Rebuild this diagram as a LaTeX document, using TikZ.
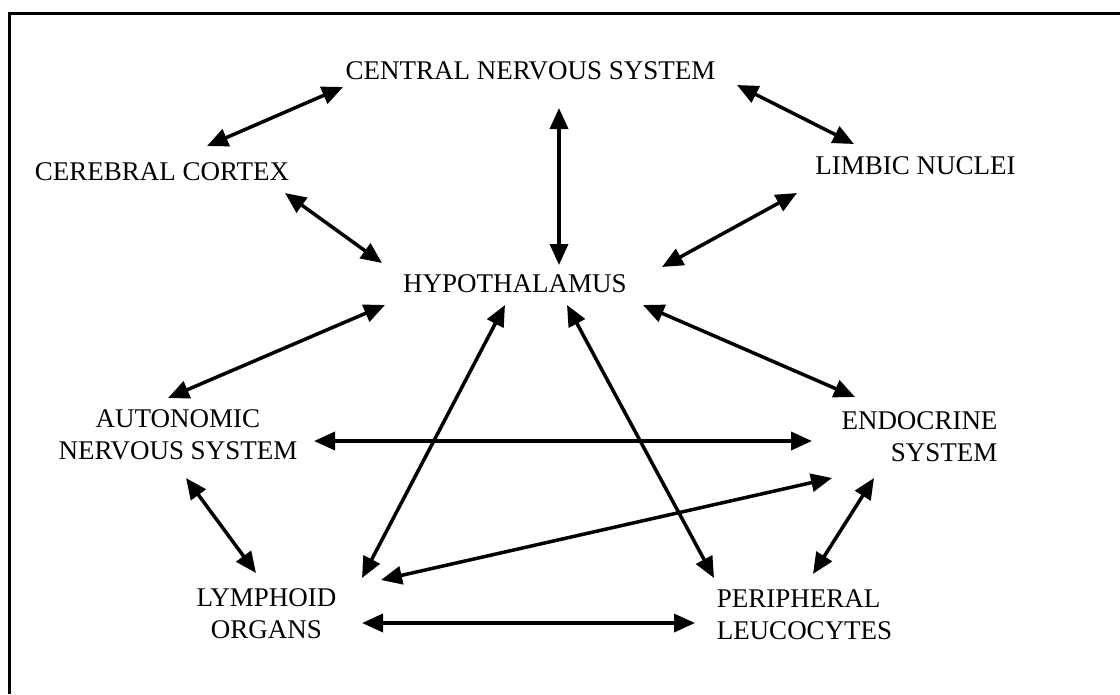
\documentclass[tikz,border=0pt]{standalone}
\usepackage{fontspec}
\setmainfont{Liberation Serif}
\usetikzlibrary{arrows.meta}
\begin{document}
\begin{tikzpicture}[x=1pt,y=-1pt,
  lbl/.style={inner sep=0pt, font=\fontsize{27pt}{32pt}\selectfont},
  arr/.style={line width=3.5pt, {Triangle[length=21pt,width=18pt]}-{Triangle[length=21pt,width=18pt]}},
  frameline/.style={line width=3pt, line join=miter}]
\useasboundingbox (0,0) rectangle (1120,694);
\draw[frameline] (9,694) -- (9,13) -- (1120,13);
% nodes
\node[lbl] (cns) at (530.5,70.5) {CENTRAL NERVOUS SYSTEM};
\node[lbl] (cc) at (162,171.5) {CEREBRAL CORTEX};
\node[lbl] (ln) at (915.5,166) {LIMBIC NUCLEI};
\node[lbl] (hyp) at (515,284) {HYPOTHALAMUS};
\node[lbl,align=center] (ans) at (178,435) {AUTONOMIC\\NERVOUS SYSTEM};
\node[lbl,align=right] (es) at (919.5,437) {ENDOCRINE\\SYSTEM};
\node[lbl,align=center] (lo) at (266.5,613.5) {LYMPHOID\\ORGANS};
\node[lbl,align=left] (pl) at (804.5,615) {PERIPHERAL\\LEUCOCYTES};
% connectors
\draw[arr] ([shift={(-187.5,16.5)}]cns.center) -- ([shift={(45,-25.5)}]cc.center);
\draw[arr] ([shift={(206.5,14.5)}]cns.center) -- ([shift={(-61.5,-22)}]ln.center);
\draw[arr] ([shift={(28.5,37.5)}]cns.center) -- ([shift={(44,-19)}]hyp.center);
\draw[arr] ([shift={(123,21.5)}]cc.center) -- ([shift={(-133,-21)}]hyp.center);
\draw[arr] ([shift={(-118.5,27)}]ln.center) -- ([shift={(147,-17)}]hyp.center);
\draw[arr] ([shift={(-130,21)}]hyp.center) -- ([shift={(-10,-37)}]ans.center);
\draw[arr] ([shift={(128,21)}]hyp.center) -- ([shift={(-64.5,-40)}]es.center);
\draw[arr] ([shift={(136,6)}]ans.center) -- ([shift={(-107.5,4)}]es.center);
\draw[arr] ([shift={(8,43)}]ans.center) -- ([shift={(-10.5,-40.5)}]lo.center);
\draw[arr] ([shift={(-10,21)}]hyp.center) -- ([shift={(95.5,-35.5)}]lo.center);
\draw[arr] ([shift={(52,21)}]hyp.center) -- ([shift={(-90.5,-37)}]pl.center);
\draw[arr] ([shift={(114.5,-33.5)}]lo.center) -- ([shift={(-87.5,41)}]es.center);
\draw[arr] ([shift={(-45.5,41)}]es.center) -- ([shift={(8.5,-41)}]pl.center);
\draw[arr] ([shift={(95.5,9.5)}]lo.center) -- ([shift={(-109.5,8)}]pl.center);
\end{tikzpicture}
\end{document}
